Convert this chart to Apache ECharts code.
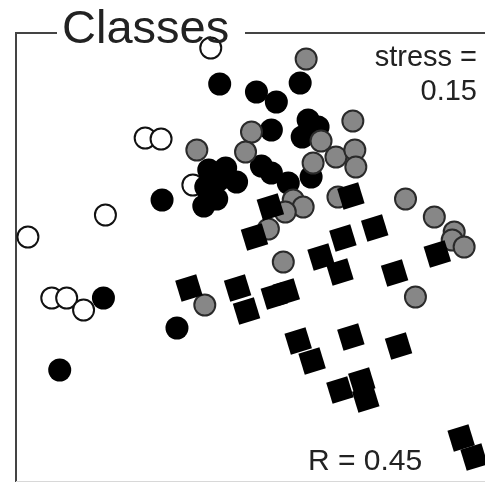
<!DOCTYPE html>
<html>
<head>
<meta charset="utf-8">
<script src="https://cdn.jsdelivr.net/npm/echarts@6/dist/echarts.min.js"></script>
<style>
  html, body { margin: 0; padding: 0; background: #fff; }
  #chart { width: 485px; height: 482px; }
</style>
</head>
<body>
<div id="chart"></div>
<script>
// NMDS ordination scores (axis 1, axis 2) for each sample, grouped by class
const openClass = [
  [-0.19, 1.01], [-0.52, 0.56], [-0.44, 0.555], [-0.28, 0.325], [-0.72, 0.175],
  [-1.11, 0.065], [-0.99, -0.24], [-0.915, -0.24], [-0.83, -0.30]
];
const blackClass = [
  [-0.145, 0.83], [0.04, 0.79], [0.14, 0.74], [0.26, 0.835], [0.115, 0.60],
  [0.30, 0.65], [0.35, 0.615], [0.27, 0.565], [0.315, 0.365], [0.20, 0.335],
  [0.065, 0.42], [0.115, 0.385], [-0.20, 0.40], [-0.115, 0.41], [-0.06, 0.34],
  [-0.15, 0.35], [-0.215, 0.315], [-0.16, 0.255], [-0.225, 0.22], [-0.435, 0.25],
  [-0.73, -0.24], [-0.36, -0.39], [-0.95, -0.60]
];
const grayClass = [
  [0.29, 0.955], [0.015, 0.59], [-0.015, 0.49], [-0.26, 0.50], [0.525, 0.645],
  [0.365, 0.545], [0.44, 0.465], [0.535, 0.50], [0.54, 0.415], [0.325, 0.435],
  [0.225, 0.25], [0.275, 0.215], [0.185, 0.19], [0.45, 0.265], [0.79, 0.255],
  [0.935, 0.165], [1.035, 0.09], [1.025, 0.05], [1.085, 0.015], [0.10, 0.105],
  [0.175, -0.06], [-0.22, -0.275], [0.84, -0.235]
];
const squareClass = [
  [0.11, 0.215], [0.03, 0.065], [0.515, 0.27], [0.475, 0.06], [0.635, 0.11],
  [0.365, -0.035], [0.46, -0.11], [0.735, -0.115], [0.95, -0.02], [-0.30, -0.19],
  [-0.055, -0.19], [-0.01, -0.305], [0.13, -0.23], [0.19, -0.21], [0.25, -0.455],
  [0.32, -0.555], [0.515, -0.435], [0.755, -0.48], [0.46, -0.70], [0.57, -0.655],
  [0.59, -0.745], [1.07, -0.94], [1.135, -1.035]
];
const titleText = 'Classes';
const stressText = ['stress =', '0.15'];
const corrText = 'R = 0.45';

const font = 'Liberation Sans, Arial, sans-serif';
const frameColor = '#444';
const chart = echarts.init(document.getElementById('chart'));

// Frame around the plot: left and bottom edges, plus a top edge broken by the heading
const frameLine = (x1, y1, x2, y2, stroke, lineWidth) => ({
  type: 'line', silent: true, z: 1,
  shape: { x1, y1, x2, y2 },
  style: { stroke, lineWidth }
});

chart.setOption({
  animation: false,
  backgroundColor: '#fff',
  graphic: [
    frameLine(16, 33, 16, 482, frameColor, 2),
    frameLine(15, 33, 57, 33, frameColor, 2),
    frameLine(245, 33, 485, 33, frameColor, 2),
    frameLine(16, 481.5, 485, 481.5, '#d8d8d8', 1)
  ],
  title: [
    {
      text: titleText, left: 62, top: 27, padding: 0,
      textStyle: { fontFamily: font, fontSize: 47, fontWeight: 'normal', color: '#222', lineHeight: 6 }
    },
    {
      text: stressText[0], right: 8, top: 43, padding: 0,
      textStyle: { fontFamily: font, fontSize: 29, fontWeight: 'normal', color: '#222', lineHeight: 29 }
    },
    {
      text: stressText[1], right: 8, top: 77, padding: 0,
      textStyle: { fontFamily: font, fontSize: 29, fontWeight: 'normal', color: '#222', lineHeight: 29 }
    },
    {
      text: corrText, left: 308, top: 447, padding: 0,
      textStyle: { fontFamily: font, fontSize: 30, fontWeight: 'normal', color: '#222', lineHeight: 30 }
    }
  ],
  grid: {
    left: 16, top: 33, right: -3, bottom: 0, show: false
  },
  xAxis: {
    type: 'value', min: -1.17, max: 1.19,
    axisLine: { show: false }, axisTick: { show: false },
    axisLabel: { show: false }, splitLine: { show: false }
  },
  yAxis: {
    type: 'value', min: -1.16, max: 1.085,
    axisLine: { show: false }, axisTick: { show: false },
    axisLabel: { show: false }, splitLine: { show: false }
  },
  series: [
    {
      type: 'scatter', data: openClass, symbol: 'circle', symbolSize: 21,
      itemStyle: { color: '#fff', borderColor: '#111', borderWidth: 2, opacity: 1 }
    },
    {
      type: 'scatter', data: blackClass, symbol: 'circle', symbolSize: 23,
      itemStyle: { color: '#000', opacity: 1 }
    },
    {
      type: 'scatter', data: grayClass, symbol: 'circle', symbolSize: 21,
      itemStyle: { color: '#878787', borderColor: '#2a2a2a', borderWidth: 2, opacity: 1 }
    },
    {
      type: 'scatter', data: squareClass, symbol: 'rect', symbolSize: 22, symbolRotate: 17,
      itemStyle: { color: '#000', opacity: 1 }
    }
  ]
});
</script>
</body>
</html>
